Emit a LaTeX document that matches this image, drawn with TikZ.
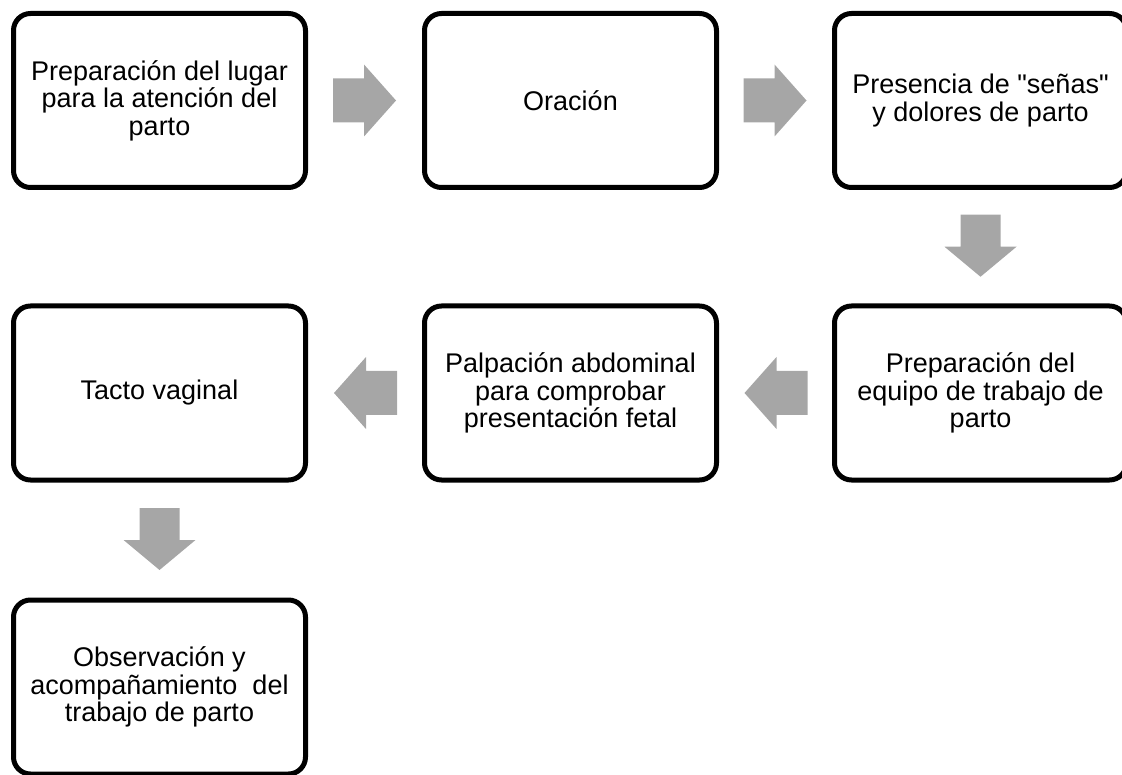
\documentclass[tikz,border=0pt]{standalone}
\usepackage{fontspec}
\setmainfont[Ligatures=TeXOff]{Liberation Sans}
\usetikzlibrary{calc}
\definecolor{arrowgray}{RGB}{166,166,166}
\tikzset{
  stepbox/.style={draw=black, line width=5pt, rounded corners=17pt, fill=white,
    minimum width=292pt, minimum height=174pt, inner sep=0pt, align=center,
    font=\fontsize{27}{27.5}\selectfont},
  blockarrow/.style={fill=arrowgray, draw=none}
}
\begin{document}
\begin{tikzpicture}[x=1pt,y=-1pt]
\useasboundingbox (0,0) rectangle (1122,775);
\node[stepbox] (b1) at (159.5,100.5) {Preparación del lugar\\para la atención del\\parto};
\node[stepbox] (b2) at (570.5,100.5) {Oración};
\node[stepbox] (b3) at (980.5,100.5) {Presencia de "señas"\\y dolores de parto};
\node[stepbox] (b6) at (980.5,393) {Preparación del\\equipo de trabajo de\\parto};
\node[stepbox] (b5) at (570.5,393) {Palpación abdominal\\para comprobar\\presentación fetal};
\node[stepbox] (b4) at (159.5,393) {Tacto vaginal};
\node[stepbox] (b7) at (159.5,687) {Observación y\\acompañamiento\ \ del\\trabajo de parto};
% right arrows
\fill[blockarrow] ($(b1.east)!0.5!(b2.west)$) ++(-32,-22) -- ++(31,0) -- ++(0,-14) -- ++(32,36) -- ++(-32,36) -- ++(0,-14) -- ++(-31,0) -- cycle;
\fill[blockarrow] ($(b2.east)!0.5!(b3.west)$) ++(-32,-22) -- ++(31,0) -- ++(0,-14) -- ++(32,36) -- ++(-32,36) -- ++(0,-14) -- ++(-31,0) -- cycle;
% down arrows
\fill[blockarrow] ($(b3.south)!0.5!(b6.north)$) ++(-20,-32) -- ++(0,32) -- ++(-16,0) -- ++(36,30) -- ++(36,-30) -- ++(-16,0) -- ++(0,-32) -- cycle;
\fill[blockarrow] ($(b4.south)!0.5!(b7.north)$) ++(-20,-32) -- ++(0,32) -- ++(-16,0) -- ++(36,30) -- ++(36,-30) -- ++(-16,0) -- ++(0,-32) -- cycle;
% left arrows
\fill[blockarrow] ($(b5.east)!0.5!(b6.west)$) ++(32,-22) -- ++(-31,0) -- ++(0,-14) -- ++(-32,36) -- ++(32,36) -- ++(0,-14) -- ++(31,0) -- cycle;
\fill[blockarrow] ($(b4.east)!0.5!(b5.west)$) ++(32,-22) -- ++(-31,0) -- ++(0,-14) -- ++(-32,36) -- ++(32,36) -- ++(0,-14) -- ++(31,0) -- cycle;
\end{tikzpicture}
\end{document}
